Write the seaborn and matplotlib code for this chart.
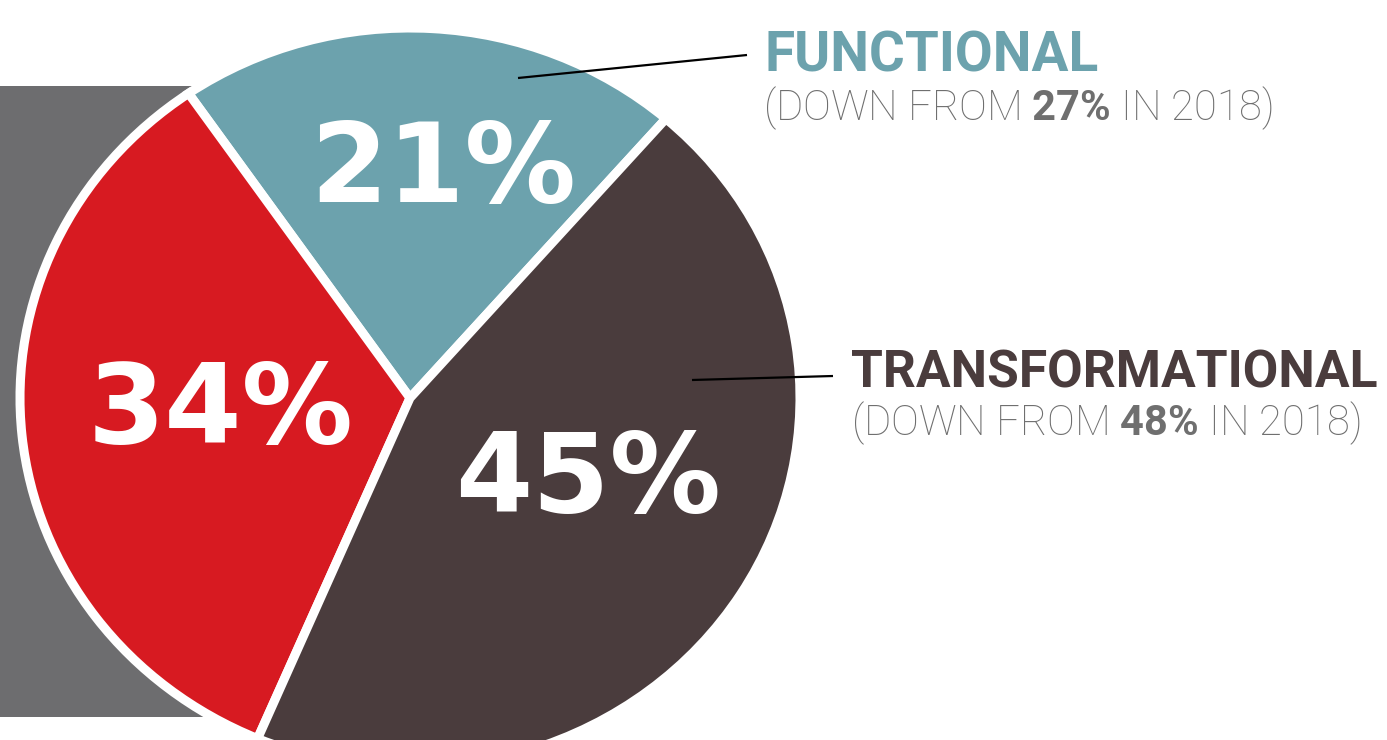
import matplotlib
matplotlib.use("Agg")
import matplotlib.pyplot as plt
from matplotlib.patches import Rectangle
import seaborn as sns

# ---- data ----
categories = ["FUNCTIONAL", "OTHER", "TRANSFORMATIONAL"]
shares = [21, 34, 45]
share_labels = ["21%", "34%", "45%"]
prev_2018 = {"FUNCTIONAL": "27%", "TRANSFORMATIONAL": "48%"}

# ---- style ----
sns.set_theme(style="white")
plt.rcParams["mathtext.fontset"] = "custom"
plt.rcParams["mathtext.bf"] = "Roboto:bold"
plt.rcParams["mathtext.rm"] = "Roboto:light"

TEAL = "#6ca2ad"
RED = "#d71a21"
DARK = "#4a3c3d"
GREY_RECT = "#6d6d6f"
SUB_GREY = "#6f6f6f"
palette = sns.color_palette([TEAL, RED, DARK])

W, H = 1387, 740
fig = plt.figure(figsize=(W / 100, H / 100), dpi=100)
fig.patch.set_facecolor("white")

# background axes (pixel coordinates, y downward)
ax_bg = fig.add_axes([0, 0, 1, 1], zorder=0)
ax_bg.set_xlim(0, W)
ax_bg.set_ylim(H, 0)
ax_bg.axis("off")
ax_bg.add_patch(Rectangle((0, 86), 412, 631, facecolor=GREY_RECT, edgecolor="none"))

# pie axes (elliptical pie)
cx, cy, a, b = 410, 398, 390, 370
ax_pie = fig.add_axes([(cx - a) / W, (H - cy - b) / H, 2 * a / W, 2 * b / H], zorder=1)
ax_pie.patch.set_alpha(0)
ax_pie.pie(shares, colors=palette, startangle=49, counterclock=True,
           wedgeprops=dict(edgecolor="white", linewidth=6.5))
ax_pie.set_aspect("auto")
ax_pie.set_xlim(-1, 1)
ax_pie.set_ylim(-1, 1)
ax_pie.axis("off")

# foreground axes for labels
ax = fig.add_axes([0, 0, 1, 1], zorder=2)
ax.patch.set_alpha(0)
ax.set_xlim(0, W)
ax.set_ylim(H, 0)
ax.axis("off")

big_pos = [(443, 202), (221, 443), (588, 512)]
for lab, (x, y) in zip(share_labels, big_pos):
    ax.text(x, y, lab, color="white", fontsize=80, fontweight="bold",
            family="DejaVu Sans", ha="center", va="baseline")

# leader lines
ax.plot([518, 747], [78, 55], color="black", lw=1.6, solid_capstyle="butt")
ax.plot([692, 833], [380, 376], color="black", lw=1.6, solid_capstyle="butt")

# headings
ax.text(765, 72, categories[0], color=TEAL, fontsize=39.5, fontweight="bold",
        family="Roboto", ha="left", va="baseline")
ax.text(763, 120, r"(DOWN FROM $\mathbf{%s}$ IN 2018)" % prev_2018["FUNCTIONAL"].replace("%", r"\%"),
        color=SUB_GREY, fontsize=30, fontweight="light", family="Roboto",
        ha="left", va="baseline")
ax.text(851, 388, categories[2], color=DARK, fontsize=37.2, fontweight="bold",
        family="Roboto", ha="left", va="baseline")
ax.text(851, 435, r"(DOWN FROM $\mathbf{%s}$ IN 2018)" % prev_2018["TRANSFORMATIONAL"].replace("%", r"\%"),
        color=SUB_GREY, fontsize=30, fontweight="light", family="Roboto",
        ha="left", va="baseline")

fig.savefig("out.png", dpi=100, facecolor="white")
